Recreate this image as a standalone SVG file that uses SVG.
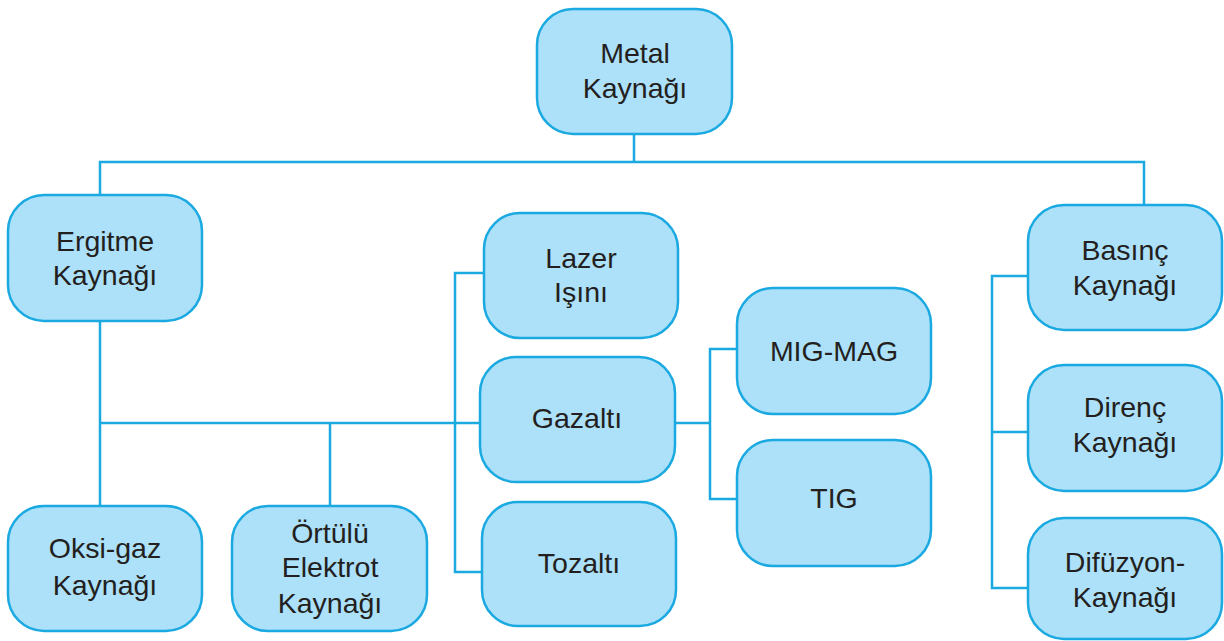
<svg xmlns="http://www.w3.org/2000/svg" width="1224" height="641" viewBox="0 0 1224 641">
<style>
.n rect{fill:#ade0f9;stroke:#1aa9e0;stroke-width:2.5}
.n text{font-family:"Liberation Sans",Arial,sans-serif;font-size:28.5px;fill:#231f20;text-anchor:middle}
.c path{fill:none;stroke:#1aa9e0;stroke-width:2.5}
</style>
<rect width="1224" height="641" fill="#fff"/>
<g class="c">
<path d="M634 134V162M100 194V162H1144V205"/>
<path d="M100 321V506M100 423H480M330 423V506"/>
<path d="M484 273H455V572H482"/>
<path d="M675 423H710M737 349H710V499H737"/>
<path d="M1028 276H992V588H1028M992 432H1028"/>
</g>
<g id="metal" class="n"><rect x="537" y="9" width="195" height="125" rx="36"/><text x="635" y="63">Metal</text><text x="635" y="98">Kaynağı</text></g>
<g id="ergitme" class="n"><rect x="8" y="195" width="194" height="126" rx="36"/><text x="105" y="251">Ergitme</text><text x="105" y="285">Kaynağı</text></g>
<g id="lazer" class="n"><rect x="484" y="213" width="194" height="125" rx="36"/><text x="581" y="268">Lazer</text><text x="581" y="302">Işını</text></g>
<g id="gazalti" class="n"><rect x="480" y="357" width="195" height="125" rx="36"/><text x="577" y="428">Gazaltı</text></g>
<g id="tozalti" class="n"><rect x="482" y="502" width="194" height="124" rx="36"/><text x="579" y="573">Tozaltı</text></g>
<g id="migmag" class="n"><rect x="737" y="288" width="194" height="126" rx="36"/><text x="834" y="361">MIG-MAG</text></g>
<g id="tig" class="n"><rect x="737" y="440" width="194" height="126" rx="36"/><text x="834" y="508">TIG</text></g>
<g id="basinc" class="n"><rect x="1028" y="205" width="194" height="125" rx="36"/><text x="1125" y="260">Basınç</text><text x="1125" y="295">Kaynağı</text></g>
<g id="direnc" class="n"><rect x="1028" y="365" width="194" height="126" rx="36"/><text x="1125" y="417">Direnç</text><text x="1125" y="452">Kaynağı</text></g>
<g id="difuzyon" class="n"><rect x="1028" y="518" width="194" height="121" rx="36"/><text x="1125" y="572">Difüzyon-</text><text x="1125" y="607">Kaynağı</text></g>
<g id="oksigaz" class="n"><rect x="8" y="506" width="194" height="125" rx="36"/><text x="105" y="558">Oksi-gaz</text><text x="105" y="595">Kaynağı</text></g>
<g id="ortulu" class="n"><rect x="232" y="506" width="195" height="125" rx="36"/><text x="330" y="543">Örtülü</text><text x="330" y="577">Elektrot</text><text x="330" y="613">Kaynağı</text></g>
</svg>
